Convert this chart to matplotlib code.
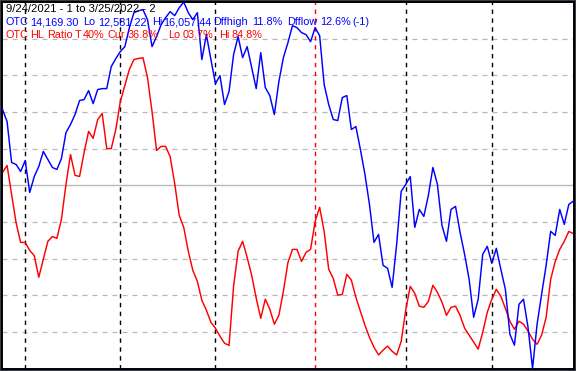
import matplotlib
matplotlib.use("Agg")
import matplotlib.pyplot as plt
import numpy as np
import pandas as pd

# ---- data ----
start_date = "2021-09-24"
end_date = "2022-03-25"
holidays = ["2021-11-25", "2021-12-24", "2022-01-17", "2022-02-21"]

otc_close = [
    15037, 14924, 14535, 14516, 14450, 14554, 14251, 14402, 14497, 14640,
    14564, 14488, 14469, 14573, 14819, 14895, 14990, 15123, 15132, 15217,
    15094, 15227, 15236, 15236, 15445, 15520, 15587, 15634, 15814, 15956,
    15975, 15985, 15890, 15634, 15729, 15842, 15909, 15966, 15928, 16003,
    16057.44, 15956, 15890, 15956, 15511, 15748, 15511, 15284, 15359, 15085,
    15208, 15558, 15729, 15530, 15634, 15435, 15236, 15577, 15246, 15170,
    14990, 15303, 15530, 15672, 15833, 15814, 15767, 15748, 15681, 15814,
    15738, 15274, 15085, 14943, 14933, 15151, 15170, 14848, 14876, 14658,
    14422, 14137, 13778, 13853, 13560, 13531, 13351, 13759, 14261, 14327,
    14402, 13920, 14090, 14024, 14223, 14488, 14327, 13939, 13787, 14090,
    14119, 13872, 13664, 13427, 13067, 13238, 13664, 13740, 13579, 13721,
    13522, 13332, 12906, 12802, 13190, 13238, 12972, 12581.22, 13001, 13285,
    13560, 13882, 13844, 14090, 13948, 14137, 14169.30,
]

hl_ratio = [
    53.5, 55.4, 47.5, 39.7, 34.4, 34.4, 32.2, 30.8, 24.9, 29.8,
    34.7, 36.0, 35.5, 40.7, 50.2, 58.4, 52.7, 52.4, 58.9, 64.7,
    62.8, 67.9, 69.6, 60.0, 60.0, 65.2, 72.8, 77.2, 81.6, 84.3,
    84.6, 84.8, 79.4, 70.1, 59.5, 60.6, 60.6, 57.8, 50.5, 41.8,
    38.5, 32.0, 26.8, 23.8, 18.6, 15.9, 12.6, 11.0, 8.8, 6.9,
    6.3, 22.4, 32.0, 34.7, 30.3, 25.4, 19.2, 13.7, 18.9, 16.2,
    12.1, 14.5, 21.1, 28.9, 32.5, 32.5, 29.2, 31.7, 32.5, 40.1,
    44.0, 37.4, 27.1, 24.6, 20.0, 20.2, 25.7, 24.1, 19.4, 15.6,
    11.8, 8.5, 5.8, 3.7, 5.0, 6.1, 4.7, 3.7, 7.4, 15.9,
    22.4, 20.5, 17.0, 16.7, 18.3, 22.7, 20.8, 18.1, 14.5, 16.7,
    17.0, 14.5, 11.0, 9.1, 7.2, 5.3, 9.9, 15.3, 18.9, 21.6,
    19.7, 16.4, 12.9, 10.7, 12.9, 12.1, 10.2, 8.0, 6.6, 9.1,
    14.0, 24.3, 29.2, 32.5, 34.7, 37.4, 36.8,
]

grid_levels = [10, 20, 30, 40, 60, 70, 80, 90]
mid_level = 50

title_line = "9/24/2021 - 1 to 3/25/2022 - 2"
otc_words = ["OTC", "14,169.30", "Lo", "12,581.22", "Hi", "16,057.44",
             "Dffhigh", "11.8%", "Dfflow", "12.6%", "(-1)"]
hl_words = ["OTC", "HL", "Ratio", "T", "40%", "Cur", "36.8%", "Lo", "03.7%", "Hi", "84.8%"]

# ---- figure ----
W, H = 576, 371
fig = plt.figure(figsize=(W / 100, H / 100), dpi=100, facecolor="#3a3a48")
ax = fig.add_axes([2 / W, 2.5 / H, 572 / W, 366.5 / H])
ax.set_facecolor("white")

dates = pd.bdate_range(start_date, end_date)
dates = dates[~dates.isin(pd.to_datetime(holidays))]
x = np.arange(len(dates))

month_starts = [i for i in range(1, len(dates)) if dates[i].month != dates[i - 1].month]
year_starts = [i for i in month_starts if dates[i].year != dates[i - 1].year]

for lv in grid_levels:
    ax.axhline(lv, color="#b8b8b8", lw=0.9, dashes=(4, 4), zorder=1)
ax.axhline(mid_level, color="#b8b8b8", lw=1.0, zorder=1)

for i in month_starts:
    col = "#ff0000" if i in year_starts else "black"
    ax.axvline(i, color=col, lw=1.0, dashes=(3.2, 3.2), zorder=2)

ax.plot(x, hl_ratio, color="#ff0000", lw=1.05, zorder=4)
ax.set_ylim(0, 100)
ax.set_xlim(-0.12, len(dates) - 1 + 0.15)

ax2 = ax.twinx()
ax2.plot(x, otc_close, color="#0000ff", lw=1.05, zorder=4)
ax2.set_ylim(min(otc_close), max(otc_close))
ax2.set_xlim(ax.get_xlim())

for a in (ax, ax2):
    a.set_xticks([])
    a.set_yticks([])
    for s in a.spines.values():
        s.set_color("black")
        s.set_linewidth(1.2)

font = dict(family=["Liberation Sans", "DejaVu Sans"], fontsize=7.8)
fig.text(6 / W, 1 - 11.8 / H, title_line, color="black", va="baseline",
         family=["Liberation Sans", "DejaVu Sans"], fontsize=8.1)
otc_px = [6, 30, 83, 98, 152, 163, 213, 252, 287, 320, 352]
hl_px = [6, 30, 47, 75, 83, 107, 128, 168, 183, 219, 232]
for txt, px in zip(otc_words, otc_px):
    fig.text(px / W, 1 - 25.3 / H, txt, color="#0000ff", va="baseline", **font)
for txt, px in zip(hl_words, hl_px):
    fig.text(px / W, 1 - 37.5 / H, txt, color="#ff0000", va="baseline", **font)

fig.savefig("out.png", dpi=100, facecolor=fig.get_facecolor())
